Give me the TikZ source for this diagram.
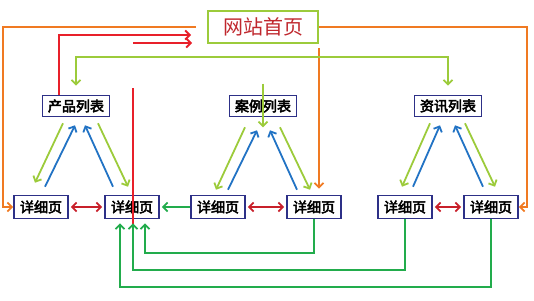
\documentclass[tikz,border=0pt]{standalone}
\usepackage{fontspec}
\newfontfamily\cjk{Noto Sans CJK SC}
\newfontfamily\cjkb{Noto Sans CJK SC}[FakeBold=3.5]
\usepackage{xcolor}
\usepackage{tikz}
\usetikzlibrary{arrows.meta,calc}

\definecolor{navy}{HTML}{2D3087}
\definecolor{homered}{HTML}{C0272D}
\definecolor{orng}{HTML}{F07A22}
\definecolor{redl}{HTML}{E8202A}
\definecolor{redd}{HTML}{C8202A}
\definecolor{bluel}{HTML}{2273C4}
\definecolor{lime}{HTML}{9CCB3B}
\definecolor{dgreen}{HTML}{22AC4C}

\begin{document}
\begin{tikzpicture}[x=1pt, y=-1pt, line width=1.8pt,
    >={Straight Barb[length=4.5pt,width=9pt]},
    homebox/.style={draw=lime, line width=2pt, fill=white, text=homered,
      font=\cjk\fontsize{20}{20}\selectfont, minimum width=110pt, minimum height=32pt, inner sep=0pt},
    listbox/.style={draw=navy, line width=1.6pt, fill=white,
      font=\cjkb\fontsize{14}{14}\selectfont, minimum width=67pt, minimum height=21pt, inner sep=0pt},
    detailbox/.style={listbox, minimum width=54pt, minimum height=23pt},
    toorange/.style={draw=orng, ->},
    tored/.style={draw=redl, ->},
    twored/.style={draw=redd, <->, shorten <=2pt, shorten >=2pt},
    toblue/.style={draw=bluel, ->},
    tolime/.style={draw=lime, ->},
    togreen/.style={draw=dgreen, ->}]
  \useasboundingbox (0,0) rectangle (534,300);

  % pages
  \node[homebox] (home) at (263,27) {网站首页};
  \node[listbox] (prod) at (76,106) {产品列表};
  \node[listbox] (case) at (263,106) {案例列表};
  \node[listbox] (info) at (448,106) {资讯列表};
  \node[detailbox] (d1) at (41,207) {详细页};
  \node[detailbox] (d2) at (132,207) {详细页};
  \node[detailbox] (d3) at (218,207) {详细页};
  \node[detailbox] (d4) at (314,207) {详细页};
  \node[detailbox] (d5) at (405,207) {详细页};
  \node[detailbox] (d6) at (491,207) {详细页};

  \coordinate (gtop) at (263,57);
  \coordinate (rbot) at (133,237);
  \coordinate (rtop) at (133,88);
  \coordinate (rmid) at (133,43);
  \coordinate (rend) at (192,43);

  % home page to the others
  \draw[toorange, shorten <=11pt] (home.west) -- (3,27) |- (d1.west);
  \draw[toorange] (home.east) -- (527,27) |- (d6.east);
  \draw[toorange, shorten <=4pt, shorten >=6pt] (home.south east) -- (home.south east |- d4.north);
  \draw[draw=lime, <->, shorten <=9pt, shorten >=9pt] (prod.north) |- (gtop) -| (info.north);
  \draw[tolime] ($(case.north)+(0,-11)$) -- ($(case.south)+(0,10)$);

  % back to home page
  \draw[tored, shorten >=16pt] ($(prod.north)+(-17,0)$) |- ($(home.west)+(0,8)$);
  \draw[draw=redl] (rbot) -- (rtop);
  \draw[tored] (rmid) -- (rend);

  % lists and details
  \draw[tolime] ($(prod.south)+(-13,6)$) -- ($(d1.north)+(-6,-12)$);
  \draw[toblue] ($(d1.north)+(4,-8)$) -- ($(prod.south)+(-1,8)$);
  \draw[toblue] ($(d2.north)+(-19,-8)$) -- ($(prod.south)+(9,8)$);
  \draw[tolime] ($(prod.south)+(22,6)$) -- ($(d2.north)+(-4,-8)$);

  \draw[tolime] ($(case.south)+(-18,10)$) -- ($(d3.north)+(-2,-5)$);
  \draw[toblue] ($(d3.north)+(10,-5)$) -- ($(case.south)+(-6,13)$);
  \draw[toblue] ($(d4.north)+(-17,-5)$) -- ($(case.south)+(7,13)$);
  \draw[tolime] ($(case.south)+(17,10)$) -- ($(d4.north)+(-4,-5)$);

  \draw[tolime] ($(info.south)+(-18,6)$) -- ($(d5.north)+(-3,-8)$);
  \draw[toblue] ($(d5.north)+(8,-8)$) -- ($(info.south)+(-8,8)$);
  \draw[toblue] ($(d6.north)+(-8,-8)$) -- ($(info.south)+(7,8)$);
  \draw[tolime] ($(info.south)+(17,6)$) -- ($(d6.north)+(4,-8)$);

  % between details
  \draw[twored] (d1) -- (d2);
  \draw[twored] (d3) -- (d4);
  \draw[twored] (d5) -- (d6);
  \draw[togreen, shorten >=2pt] (d3.west) -- (d2.east);
  \draw[togreen, shorten >=4pt] (d4.south) -- ++(0,34) -| ($(d2.south)+(13,0)$);
  \draw[togreen, shorten >=4pt] (d5.south) -- ++(0,51) -| ($(d2.south)+(1,0)$);
  \draw[togreen, shorten >=4pt] (d6.south) -- ++(0,68) -| ($(d2.south)+(-12,0)$);
\end{tikzpicture}
\end{document}
